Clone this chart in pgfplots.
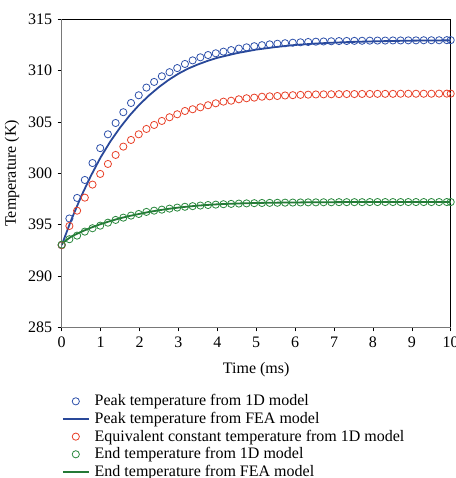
\documentclass[border=0pt]{standalone}
\usepackage{pgfplots}
\pgfplotsset{compat=1.18}
\usepackage{pgfplotstable}
\usepackage{fontspec}
\setmainfont{Liberation Serif}

\definecolor{peakblue}{RGB}{45,80,170}
\definecolor{eqred}{RGB}{232,64,40}
\definecolor{endgreen}{RGB}{40,135,60}
\definecolor{spinegray}{RGB}{120,120,120}

% 1D model results: time (ms), peak, equivalent constant and end temperature (K)
\pgfplotstableread{
t      peak    equiv   endT
0.000  293.00  293.00  293.05
0.198  295.60  294.87  293.58
0.396  297.60  296.36  293.93
0.594  299.35  297.63  294.32
0.792  301.00  298.90  294.65
0.990  302.45  299.94  294.90
1.188  303.80  300.91  295.19
1.386  304.90  301.79  295.46
1.584  305.95  302.60  295.68
1.782  306.85  303.25  295.88
1.980  307.60  303.80  296.04
2.178  308.35  304.32  296.24
2.376  308.90  304.71  296.36
2.574  309.45  305.10  296.46
2.772  309.85  305.46  296.56
2.970  310.25  305.75  296.66
3.168  310.65  306.07  296.74
3.366  311.00  306.24  296.80
3.564  311.30  306.43  296.86
3.762  311.52  306.63  296.91
3.960  311.69  306.82  296.95
4.158  311.85  306.98  296.99
4.356  312.00  307.07  297.02
4.554  312.15  307.21  297.05
4.752  312.27  307.31  297.07
4.950  312.38  307.37  297.09
5.148  312.48  307.46  297.11
5.346  312.56  307.50  297.12
5.544  312.62  307.53  297.13
5.742  312.67  307.58  297.14
5.940  312.72  307.61  297.15
6.138  312.76  307.64  297.16
6.336  312.79  307.66  297.17
6.534  312.82  307.68  297.17
6.732  312.84  307.69  297.18
6.930  312.86  307.70  297.18
7.128  312.88  307.71  297.19
7.326  312.89  307.72  297.19
7.524  312.90  307.72  297.19
7.722  312.91  307.73  297.19
7.920  312.92  307.73  297.20
8.118  312.93  307.74  297.20
8.316  312.93  307.74  297.20
8.514  312.94  307.74  297.20
8.712  312.94  307.75  297.20
8.910  312.95  307.75  297.20
9.108  312.95  307.75  297.20
9.306  312.96  307.75  297.20
9.504  312.96  307.75  297.20
9.702  312.96  307.76  297.20
9.900  312.97  307.76  297.20
10.000 312.97  307.76  297.20
}\oneD

% FEA model results: time (ms), peak and end temperature (K)
\pgfplotstableread{
t     peak    endT
0.00  293.00  293.15
0.25  295.50  293.85
0.50  297.75  294.30
0.75  299.75  294.70
1.00  301.55  295.05
1.25  303.10  295.35
1.50  304.45  295.62
1.75  305.65  295.85
2.00  306.70  296.05
2.25  307.60  296.24
2.50  308.40  296.40
2.75  309.10  296.54
3.00  309.70  296.66
3.25  310.20  296.76
3.50  310.60  296.85
3.75  310.95  296.92
4.00  311.25  296.98
4.50  311.70  297.06
5.00  312.05  297.11
5.50  312.30  297.14
6.00  312.50  297.16
6.50  312.63  297.18
7.00  312.73  297.19
7.50  312.80  297.20
8.00  312.85  297.20
8.50  312.89  297.21
9.00  312.92  297.21
9.50  312.94  297.21
10.00 312.95  297.21
}\fea

\begin{document}
\fontsize{16bp}{18bp}\selectfont
\begin{tikzpicture}
\begin{axis}[
  scale only axis,
  width=389bp, height=308bp,
  xmin=0, xmax=10, ymin=285, ymax=315,
  xtick={0,1,...,10},
  ytick={285,290,295,300,305,310,315},
  yticklabels={285,290,395,300,305,310,315},
  tick align=outside,
  xtick pos=bottom, ytick pos=left,
  major tick length=4bp,
  tick style={black, line width=0.6bp},
  axis line style={black, line width=0.6bp},
  /pgf/number format/assume math mode=true,
  ticklabel style={font=\fontsize{16bp}{18bp}\selectfont},
  label style={font=\fontsize{16bp}{18bp}\selectfont},
  xlabel={Time (ms)},
  ylabel={Temperature (K)},
  xlabel style={yshift=-4bp},
  ylabel style={yshift=-2bp},
  legend cell align=left,
  legend style={draw=none, fill=none, at={(rel axis cs:0,0)}, anchor=north west,
    xshift=0bp, yshift=-65bp, font=\fontsize{16bp}{17.5bp}\selectfont,
    row sep=0bp, inner sep=0pt},
  legend image code/.code={\draw[mark repeat=2, mark phase=2, #1]
    plot coordinates {(0bp,0bp) (13bp,0bp) (26bp,0bp)}; \path (29bp,0bp);},
  clip=false,
]
\addplot[only marks, mark=o, mark size=3.6bp, peakblue, line width=0.8bp]
  table[x=t, y=peak] {\oneD};
\addlegendentry{Peak temperature from 1D model}
\addplot[no marks, peakblue!90!black, line width=1.8bp]
  table[x=t, y=peak] {\fea};
\addlegendentry{Peak temperature from FEA model}
\addplot[only marks, mark=o, mark size=3.6bp, eqred, line width=0.8bp]
  table[x=t, y=equiv] {\oneD};
\addlegendentry{Equivalent constant temperature from 1D model}
\addplot[only marks, mark=o, mark size=3.6bp, endgreen, line width=0.8bp]
  table[x=t, y=endT] {\oneD};
\addlegendentry{End temperature from 1D model}
\addplot[no marks, endgreen!90!black, line width=1.8bp]
  table[x=t, y=endT] {\fea};
\addlegendentry{End temperature from FEA model}
% heavier grey spines on the left and bottom
\draw[spinegray, line width=1.6bp] (rel axis cs:0,1) -- (rel axis cs:0,0) -- (rel axis cs:1,0);
\end{axis}
\pgfresetboundingbox
\path[use as bounding box] (-61.7bp,-150.7bp) rectangle (394.3bp,327.3bp);
\end{tikzpicture}
\end{document}
